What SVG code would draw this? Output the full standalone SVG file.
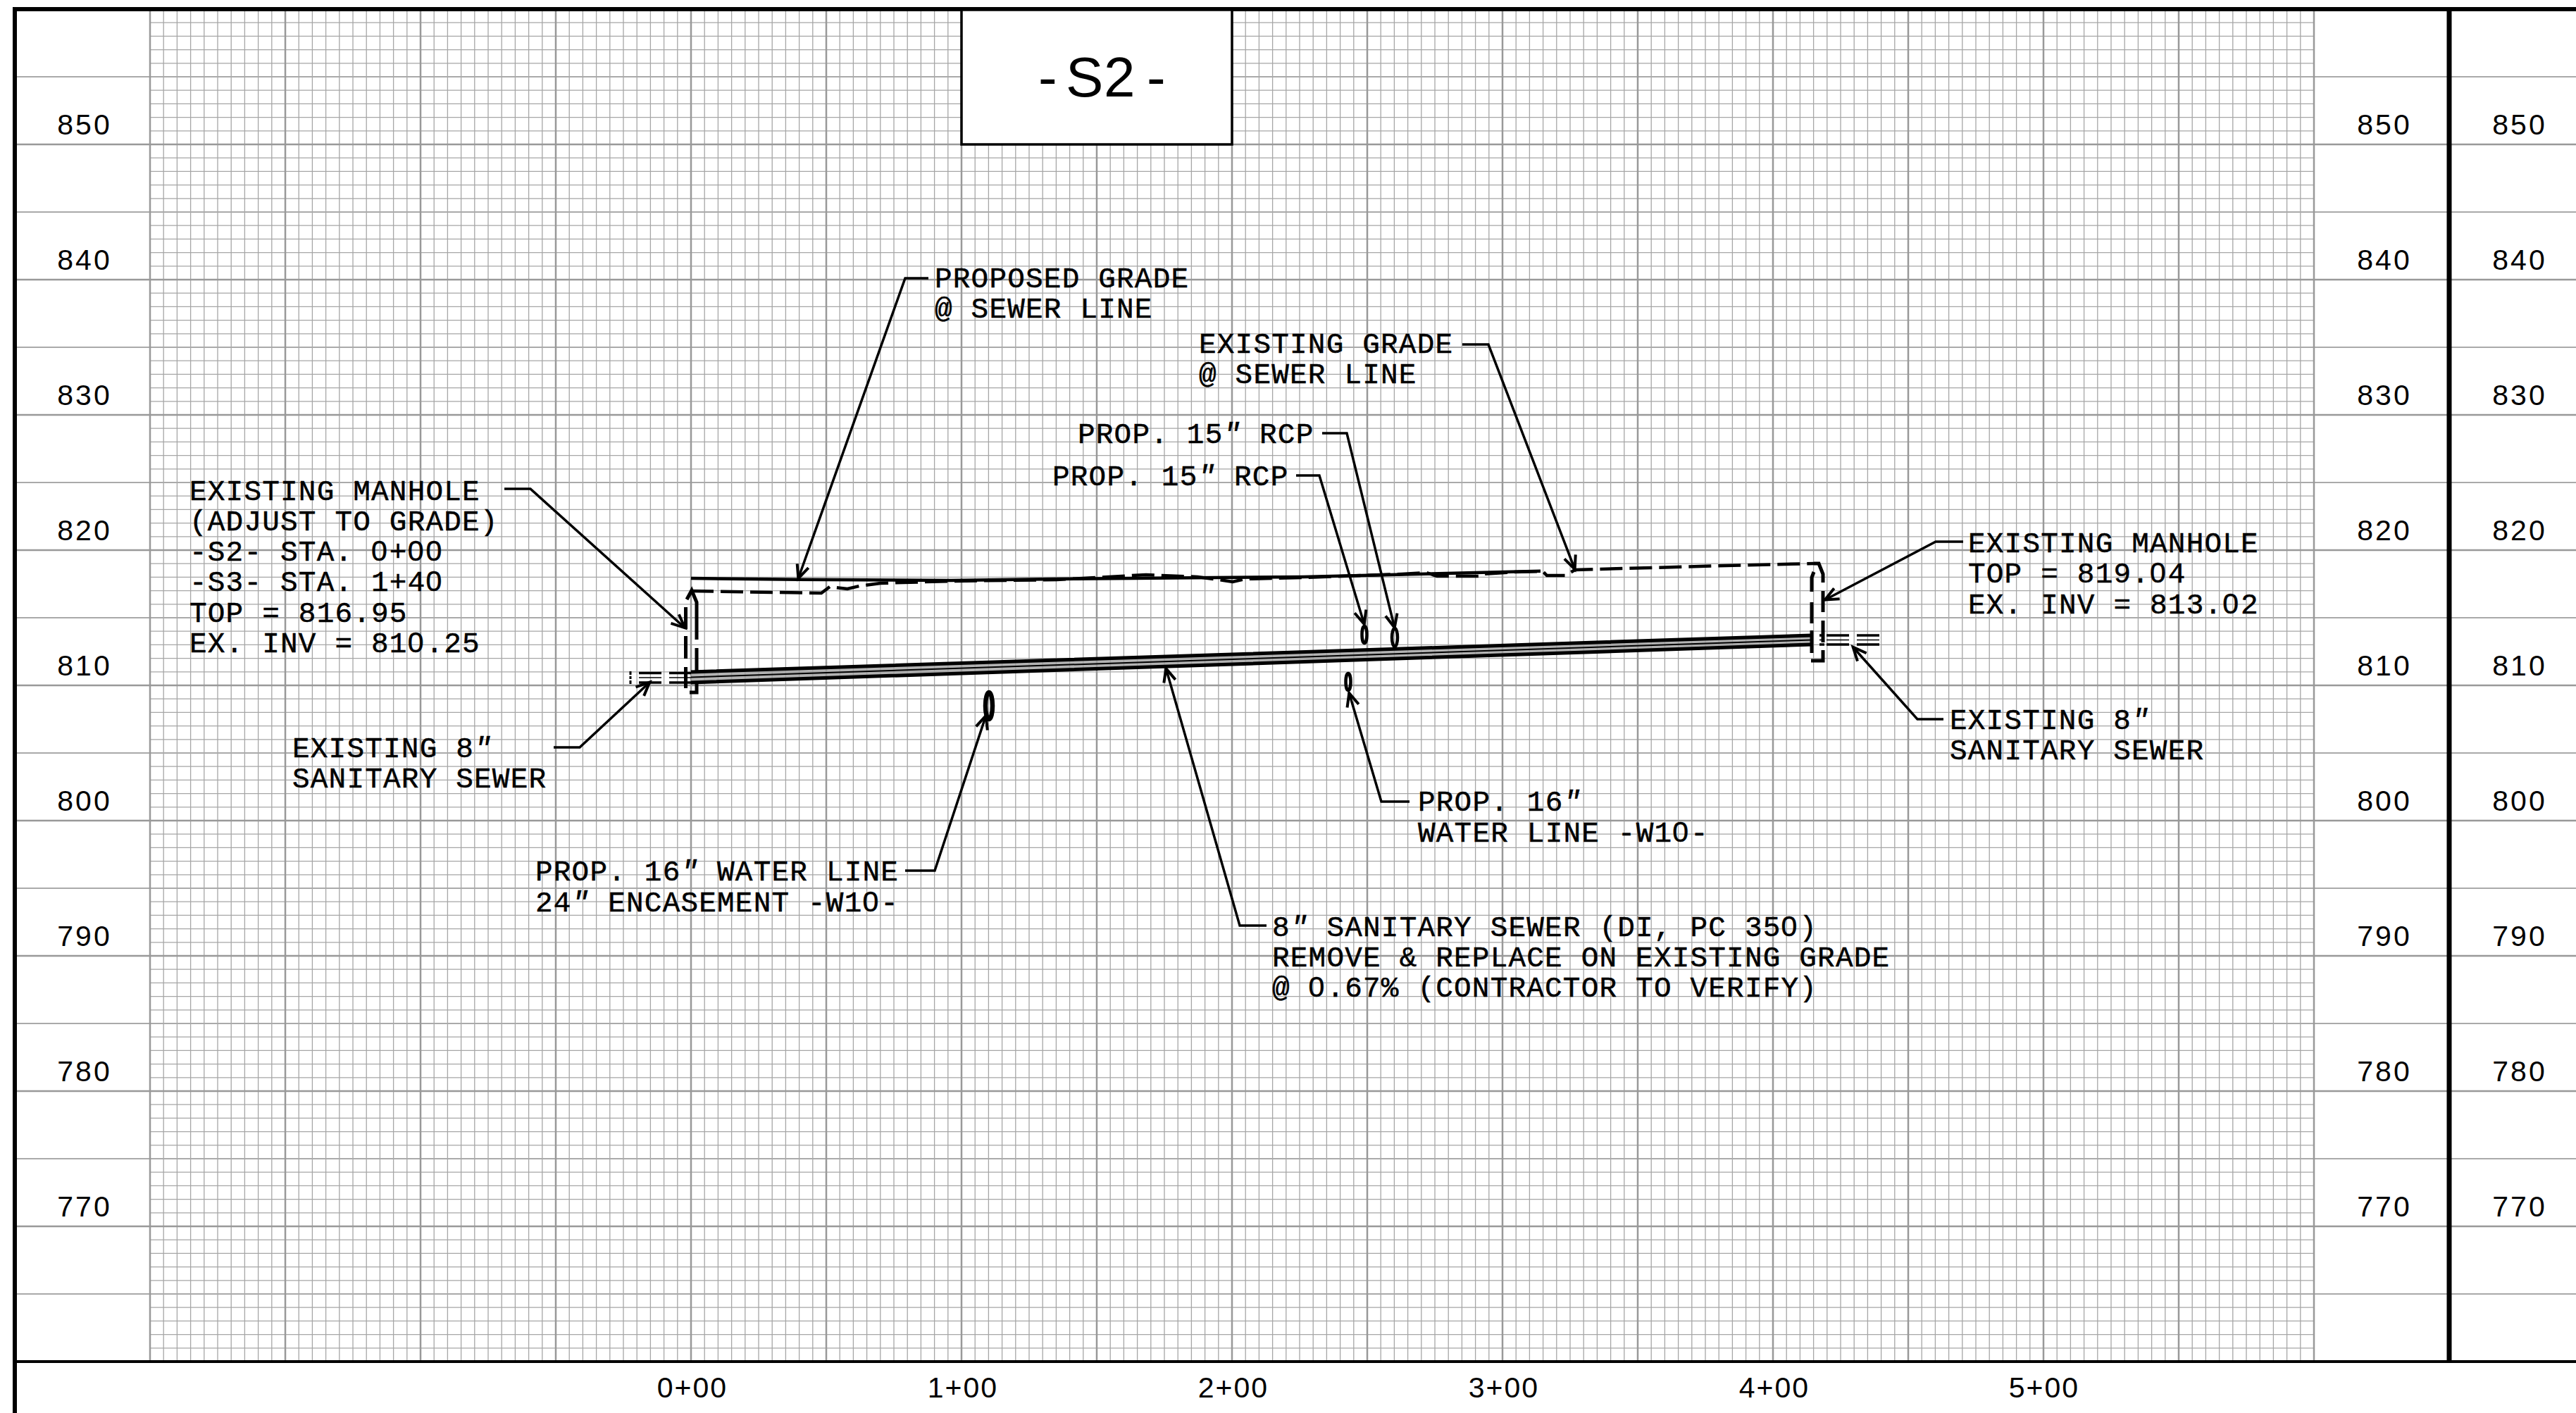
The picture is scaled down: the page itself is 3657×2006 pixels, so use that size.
<svg xmlns="http://www.w3.org/2000/svg" width="3657" height="2006" viewBox="0 0 3657 2006">
<style>
.ax{font-family:"Liberation Sans",Arial,sans-serif;font-size:41px;letter-spacing:3px;text-anchor:middle;fill:#000}
.st{font-family:"Liberation Sans",Arial,sans-serif;font-size:41px;letter-spacing:2px;text-anchor:middle;fill:#000}
.n{font-family:"Liberation Mono","Courier New",monospace;font-size:41px;letter-spacing:1.200px;fill:#000;stroke:#000;stroke-width:.5px;white-space:pre}
.z{font-family:"Liberation Sans",Arial,sans-serif;letter-spacing:3px}
.q{font-style:italic}
.ld{fill:none;stroke:#000;stroke-width:3.500;stroke-linejoin:miter;marker-end:url(#ah)}
.pe{fill:none;stroke:#000;stroke-width:4.500}
.el{fill:none;stroke:#000;stroke-width:4.500}
</style>
<defs>
<marker id="ah" markerUnits="userSpaceOnUse" markerWidth="30" markerHeight="24" refX="21" refY="12" orient="auto" viewBox="0 0 30 24"><path d="M1 3.500L20 12L1 20.500" fill="none" stroke="#000" stroke-width="4"/></marker>
<pattern id="grid" patternUnits="userSpaceOnUse" x="213" y="13" width="192" height="192">
<path d="M0 0V192M19.200 0V192M38.400 0V192M57.600 0V192M76.800 0V192M96 0V192M115.200 0V192M134.400 0V192M153.600 0V192M172.800 0V192M192 0V192M0 0H192M0 19.200H192M0 38.400H192M0 57.600H192M0 76.800H192M0 96H192M0 115.200H192M0 134.400H192M0 153.600H192M0 172.800H192M0 192H192" fill="none" stroke="#a6a6a6" stroke-width="1.300"/>
</pattern>
</defs>
<rect width="3657" height="2006" fill="#fff"/>
<g id="grid-lines">
<rect x="213" y="13" width="3072" height="1920" fill="url(#grid)"/>
<path d="M21 109H3657M21 301H3657M21 493H3657M21 685H3657M21 877H3657M21 1069H3657M21 1261H3657M21 1453H3657M21 1645H3657M21 1837H3657" fill="none" stroke="#aaa" stroke-width="2"/>
<path d="M21 205H3657M21 397H3657M21 589H3657M21 781H3657M21 973H3657M21 1165H3657M21 1357H3657M21 1549H3657M21 1741H3657" fill="none" stroke="#999" stroke-width="2.500"/>
<path d="M213 13V1933M405 13V1933M597 13V1933M789 13V1933M981 13V1933M1173 13V1933M1365 13V1933M1557 13V1933M1749 13V1933M1941 13V1933M2133 13V1933M2325 13V1933M2517 13V1933M2709 13V1933M2901 13V1933M3093 13V1933M3285 13V1933" fill="none" stroke="#999" stroke-width="2.500"/>
</g>
<g id="frame" fill="none" stroke="#000">
<path d="M21 2006V13H3657" stroke-width="6"/>
<path d="M21 1933H3657" stroke-width="4"/>
<path d="M3477 13V1933" stroke-width="7"/>
</g>
<g id="title-box">
<rect x="1365" y="14" width="384" height="191" fill="#fff" stroke="#000" stroke-width="3.500"/>
<text x="1474 1513 1567 1628" y="137" font-family="Liberation Sans, Arial, sans-serif" font-size="80" fill="#000">-S2-</text>
</g>
<g id="elevation-labels">
<text class="ax" x="120" y="191">850</text><text class="ax" x="3385" y="191">850</text><text class="ax" x="3577" y="191">850</text>
<text class="ax" x="120" y="383">840</text><text class="ax" x="3385" y="383">840</text><text class="ax" x="3577" y="383">840</text>
<text class="ax" x="120" y="575">830</text><text class="ax" x="3385" y="575">830</text><text class="ax" x="3577" y="575">830</text>
<text class="ax" x="120" y="767">820</text><text class="ax" x="3385" y="767">820</text><text class="ax" x="3577" y="767">820</text>
<text class="ax" x="120" y="959">810</text><text class="ax" x="3385" y="959">810</text><text class="ax" x="3577" y="959">810</text>
<text class="ax" x="120" y="1151">800</text><text class="ax" x="3385" y="1151">800</text><text class="ax" x="3577" y="1151">800</text>
<text class="ax" x="120" y="1343">790</text><text class="ax" x="3385" y="1343">790</text><text class="ax" x="3577" y="1343">790</text>
<text class="ax" x="120" y="1535">780</text><text class="ax" x="3385" y="1535">780</text><text class="ax" x="3577" y="1535">780</text>
<text class="ax" x="120" y="1727">770</text><text class="ax" x="3385" y="1727">770</text><text class="ax" x="3577" y="1727">770</text>
</g>
<g id="station-labels">
<text class="st" x="983" y="1984">0+00</text><text class="st" x="1367" y="1984">1+00</text><text class="st" x="1751" y="1984">2+00</text><text class="st" x="2135" y="1984">3+00</text><text class="st" x="2519" y="1984">4+00</text><text class="st" x="2902" y="1984">5+00</text>
</g>
<g id="sewer">
<path d="M981 954L2572 902V915L981 969Z" fill="#a0a0a0" fill-opacity=".8"/>
<path d="M981 954L2572 902M981 969L2572 915" fill="none" stroke="#000" stroke-width="5"/>
<path d="M981 961.500L2572 908.500" fill="none" stroke="#000" stroke-width="2"/>
<path d="M907 955.500H939M950 955.500H981M907 969H939M950 969H981M2593 902H2625M2636 902H2668M2583 902H2590M2593 915H2625M2636 915H2668M2583 915H2590" fill="none" stroke="#000" stroke-width="3.500"/>
<path d="M907 962H939M950 962H981M2593 908.500H2625M2636 908.500H2668M2583 908.500H2590" fill="none" stroke="#000" stroke-width="1.500"/>
<path d="M895 953V958M895 960V964M895 966V971" fill="none" stroke="#000" stroke-width="3"/>
</g>
<g id="grades">
<path class="pe" d="M981 821L1133 822.700L1350 824L1500 822L1850 819L2187 810.700"/>
<path class="pe" stroke-dasharray="32 10" d="M981 839L1100 841L1166 842L1178 833L1203 836L1220 832L1250 828L1350 825L1500 823L1627 816L1700 819L1737 824L1750 826L1767 822L1850 820L1990 815L2025 813L2040 818L2100 818L2106 815L2150 812L2190 811L2196 817L2222 817L2236 809L2450 803L2575 800"/>
</g>
<g id="manhole-left" fill="none" stroke="#000" stroke-width="5">
<path d="M975 851L982 838L989 855V908M989 920V955M989 970V983H979"/>
<path d="M973.500 862V893M973.500 903V935M973.500 947V977"/>
</g>
<g id="manhole-right" fill="none" stroke="#000" stroke-width="5">
<path d="M2575 800H2582L2588 815V827M2588 839V869M2588 881V912M2588 923V938H2571"/>
<path d="M2575 812L2572 820V840M2572 855V885M2572 895V927"/>
</g>
<g id="crossings">
<ellipse class="el" cx="1937" cy="901" rx="3.500" ry="12"/>
<ellipse class="el" cx="1980" cy="905" rx="4" ry="13"/>
<ellipse class="el" cx="1914" cy="968" rx="3.500" ry="12"/>
<ellipse class="el" cx="1404" cy="1002" rx="5" ry="19" style="stroke-width:6.500"/>
</g>
<g id="connectors">
<path class="ld" d="M716 694H753L973 892"/>
<path class="ld" d="M1318 395H1285L1133 822"/>
<path class="ld" d="M2076 489H2113L2236 809"/>
<path class="ld" d="M1877 615H1912L1980 892"/>
<path class="ld" d="M1840 675H1873L1937 887"/>
<path class="ld" d="M786 1061H823L923 968"/>
<path class="ld" d="M2759 1021H2722L2630 918"/>
<path class="ld" d="M2001 1138H1961L1915 983"/>
<path class="ld" d="M1285 1236H1327L1400 1015"/>
<path class="ld" d="M1798 1314H1760L1655 948"/>
<path class="ld" d="M2787 769H2748L2590 852"/>
</g>
<g id="note-manhole-left">
<text class="n" x="269" y="710">EXISTING MANHOLE</text>
<text class="n" x="269" y="753">(ADJUST TO GRADE)</text>
<text class="n" x="269" y="796">-S2- STA. <tspan class="z">0</tspan>+<tspan class="z">0</tspan><tspan class="z">0</tspan></text>
<text class="n" x="269" y="839">-S3- STA. 1+4<tspan class="z">0</tspan></text>
<text class="n" x="269" y="883">TOP = 816.95</text>
<text class="n" x="269" y="926">EX. INV = 81<tspan class="z">0</tspan>.25</text>
</g>
<g id="note-proposed-grade">
<text class="n" x="1327" y="408">PROPOSED GRADE</text>
<text class="n" x="1327" y="451">@ SEWER LINE</text>
</g>
<g id="note-existing-grade">
<text class="n" x="1702" y="501">EXISTING GRADE</text>
<text class="n" x="1702" y="544">@ SEWER LINE</text>
</g>
<g id="note-rcp-upper"><text class="n" x="1530" y="629">PROP. 15<tspan class="q">"</tspan> RCP</text></g>
<g id="note-rcp-lower"><text class="n" x="1494" y="689">PROP. 15<tspan class="q">"</tspan> RCP</text></g>
<g id="note-manhole-right">
<text class="n" x="2794" y="784">EXISTING MANHOLE</text>
<text class="n" x="2794" y="827">TOP = 819.<tspan class="z">0</tspan>4</text>
<text class="n" x="2794" y="871">EX. INV = 813.<tspan class="z">0</tspan>2</text>
</g>
<g id="note-sewer-left">
<text class="n" x="415" y="1075">EXISTING 8<tspan class="q">"</tspan></text>
<text class="n" x="415" y="1118">SANITARY SEWER</text>
</g>
<g id="note-sewer-right">
<text class="n" x="2768" y="1035">EXISTING 8<tspan class="q">"</tspan></text>
<text class="n" x="2768" y="1078">SANITARY SEWER</text>
</g>
<g id="note-water-right">
<text class="n" x="2013" y="1151">PROP. 16<tspan class="q">"</tspan></text>
<text class="n" x="2013" y="1195">WATER LINE -W1<tspan class="z">0</tspan>-</text>
</g>
<g id="note-water-left">
<text class="n" x="760" y="1250">PROP. 16<tspan class="q">"</tspan> WATER LINE</text>
<text class="n" x="760" y="1294">24<tspan class="q">"</tspan> ENCASEMENT -W1<tspan class="z">0</tspan>-</text>
</g>
<g id="note-sanitary">
<text class="n" x="1806" y="1329">8<tspan class="q">"</tspan> SANITARY SEWER (DI, PC 35<tspan class="z">0</tspan>)</text>
<text class="n" x="1806" y="1372">REMOVE &amp; REPLACE ON EXISTING GRADE</text>
<text class="n" x="1806" y="1415">@ <tspan class="z">0</tspan>.67% (CONTRACTOR TO VERIFY)</text>
</g>
</svg>
